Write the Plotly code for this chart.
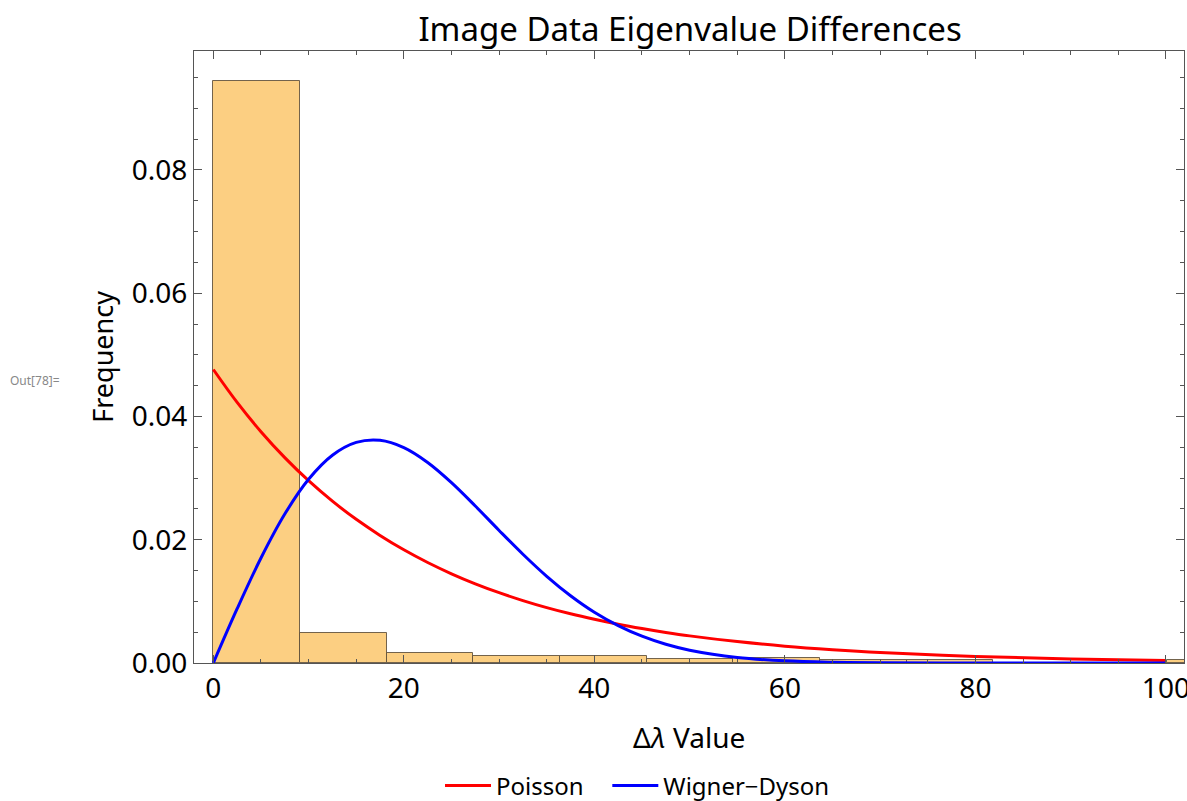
import plotly.graph_objects as go

# Histogram of eigenvalue spacings (bin width 9.1)
bin_edges = [0.0, 9.1, 18.2, 27.3, 36.4, 45.5, 54.6, 63.7, 72.8, 81.9, 91.0, 100.1, 109.2]
bin_heights = [0.0945, 0.0049, 0.00165, 0.0012, 0.0012, 0.00073, 0.0008,
               0.0005, 0.0005, 0.0, 0.0, 0.00045]

# Reference distributions sampled along Δλ
curve_x = [0, 2.5, 5, 7.5, 10, 12.5, 15, 17.5, 20, 22.5, 25, 27.5, 30, 32.5,
           35, 37.5, 40, 42.5, 45, 47.5, 50, 55, 60, 65, 70, 80, 90, 100]
poisson_y = [0.04762, 0.04228, 0.03753, 0.03332, 0.02958, 0.02626, 0.02331,
             0.02070, 0.01837, 0.01631, 0.01448, 0.01285, 0.01141, 0.01013,
             0.00899, 0.00798, 0.00709, 0.00629, 0.00559, 0.00496, 0.00440,
             0.00347, 0.00273, 0.00216, 0.00170, 0.00106, 0.00066, 0.00041]
wigner_y = [0.0, 0.008806, 0.017034, 0.02417, 0.02981, 0.03371, 0.03579,
            0.03613, 0.03494, 0.03253, 0.02926, 0.02547, 0.02151, 0.01765,
            0.01407, 0.01092, 0.00824, 0.00607, 0.00435, 0.00304, 0.00208,
            0.000896, 0.000351, 0.000125, 0.0000405, 0.0, 0.0, 0.0]

x_ticks = [0, 20, 40, 60, 80, 100]
y_ticks = [0.00, 0.02, 0.04, 0.06, 0.08]
y_tick_text = ["0.00", "0.02", "0.04", "0.06", "0.08"]

centers = [(a + b) / 2 for a, b in zip(bin_edges[:-1], bin_edges[1:])]
widths = [b - a for a, b in zip(bin_edges[:-1], bin_edges[1:])]

FONT = "Noto Sans"
FRAME = "#555555"
NBSP = "\u00a0"

fig = go.Figure()
fig.add_trace(go.Bar(
    x=centers, y=bin_heights, width=widths,
    marker=dict(color="#FCCF82", line=dict(color="rgba(90,75,55,0.85)", width=1)),
    showlegend=False, hoverinfo="skip",
))
fig.add_trace(go.Scatter(
    x=curve_x, y=poisson_y, mode="lines", name="Poisson" + NBSP * 3,
    line=dict(color="#FF0000", width=3, shape="spline"),
))
fig.add_trace(go.Scatter(
    x=curve_x, y=wigner_y, mode="lines", name="Wigner\u2212Dyson",
    line=dict(color="#0000FF", width=3, shape="spline"),
))

axis_common = dict(
    showline=True, linecolor=FRAME, linewidth=1, mirror="allticks",
    ticks="inside", ticklen=8, tickwidth=1, tickcolor=FRAME,
    showgrid=False, zeroline=False, ticklabeloverflow="allow",
    tickfont=dict(family=FONT, size=28, color="black"),
)

fig.update_xaxes(
    range=[-2.03, 101.9], tickmode="array", tickvals=x_ticks,
    minor=dict(ticks="inside", ticklen=4, tickcolor=FRAME, dtick=5, tick0=0, showgrid=False),
    **axis_common,
)
fig.update_yaxes(
    range=[0, 0.0993], tickmode="array", tickvals=y_ticks, ticktext=y_tick_text,
    minor=dict(ticks="inside", ticklen=4, tickcolor=FRAME, dtick=0.005, tick0=0, showgrid=False),
    **axis_common,
)

fig.update_layout(
    width=1187, height=801,
    margin=dict(l=194, r=3, t=51, b=137.5, autoexpand=False),
    plot_bgcolor="white", paper_bgcolor="white",
    bargap=0,
    title=dict(text="Image Data Eigenvalue Differences", x=0.5814, xanchor="center",
               y=1 - 29 / 801, yanchor="middle",
               font=dict(family=FONT, size=33, color="black")),
    legend=dict(orientation="h", x=0.2485, xanchor="left", y=-0.201, yanchor="middle",
                itemwidth=46,
                font=dict(family=FONT, size=24, color="black"),
                bgcolor="rgba(0,0,0,0)"),
    annotations=[
        dict(text="Δ<i>λ</i> Value", xref="paper", yref="paper", x=0.5, y=-0.1216,
             xanchor="center", yanchor="middle", showarrow=False,
             font=dict(family=FONT, size=28, color="black")),
        dict(text="Frequency", xref="paper", yref="paper", x=-0.0919, y=0.5004,
             xanchor="center", yanchor="middle", textangle=-90, showarrow=False,
             font=dict(family=FONT, size=27, color="black")),
        dict(text="Out[78]=", xref="paper", yref="paper", x=-0.1879, y=0.461,
             xanchor="left", yanchor="middle", showarrow=False,
             font=dict(family=FONT, size=12, color="#888888")),
    ],
)

fig.write_html("out.html")
